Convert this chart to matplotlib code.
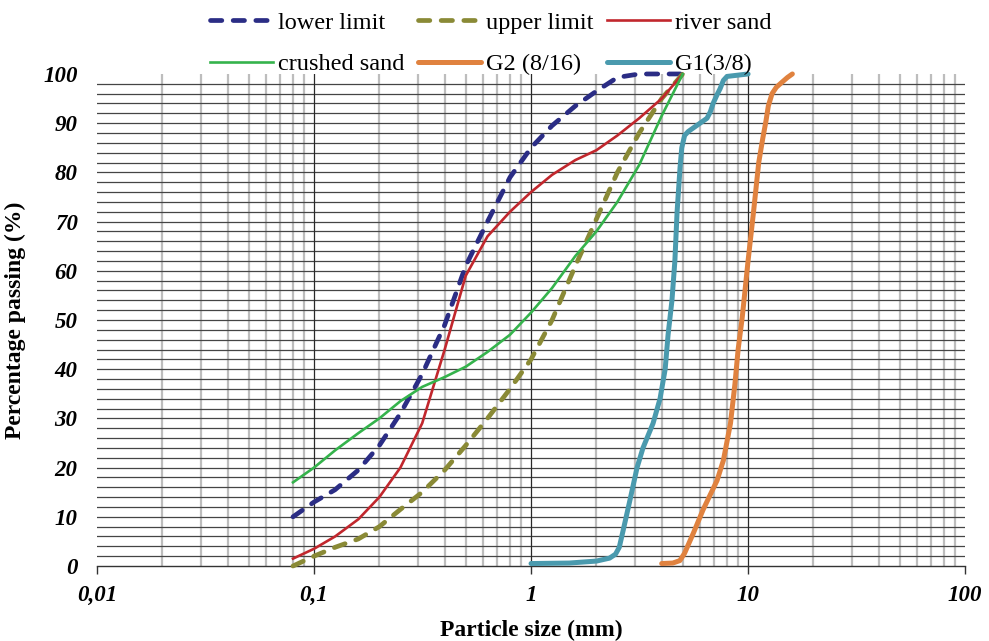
import matplotlib.pyplot as plt
import numpy as np

plt.rcParams['font.family'] = ['Liberation Serif', 'DejaVu Serif']

# sand curves, read at the sieve sizes (mm)
sieve = [0.08, 0.1, 0.125, 0.16, 0.2, 0.25, 0.315, 0.4, 0.5, 0.63, 0.8, 1,
         1.25, 1.6, 2, 2.5, 3.15, 4, 5]
lower_limit = [10, 13, 15.5, 19.5, 24.5, 31, 39, 49, 61, 70, 79, 85,
               89.5, 93.5, 96.5, 99.3, 100, 100, 100]
upper_limit = [0, 2, 3.8, 5.5, 8, 11.5, 15, 19.5, 24.5, 30, 36, 42,
               50, 61, 70.5, 80, 88, 95, 100]
river_sand = [1.5, 3.5, 6, 9.5, 14, 20, 29, 44, 59, 67, 72, 76,
              79.5, 82.5, 84.5, 87.5, 91, 95, 100]
crushed_sand = [17, 20, 23.5, 27, 30, 33.5, 36.4, 38.4, 40.5, 43.5, 47, 51.5,
                56.5, 63, 68, 74, 81.5, 91.5, 100]

# gravels
g1_size = [1, 1.5, 2.0, 2.3, 2.45, 2.55, 2.65, 2.86, 3.08, 3.28, 3.65, 3.93,
           4.15, 4.28, 4.46, 4.6, 4.71, 4.86, 4.95, 5.1, 5.3, 5.58, 6.1,
           6.47, 6.7, 6.9, 7.2, 7.43, 7.7, 8.0, 10]
g1_pass = [0.5, 0.6, 1.0, 1.6, 2.4, 3.8, 7, 13.5, 20, 24, 29, 34,
           40, 47, 54, 62, 72, 81, 85, 87.5, 88.3, 89, 90.2,
           91, 92.3, 94, 95.8, 97, 98.7, 99.5, 100]
g2_size = [4.0, 4.5, 4.85, 5.1, 5.3, 5.6, 6.2, 7.2, 7.7, 8.3, 8.7, 9.0, 9.4,
           10, 10.6, 11.2, 11.7, 12.1, 12.4, 12.9, 13.5, 14.4, 15.2, 16]
g2_pass = [0.5, 0.6, 1.1, 2.6, 4.3, 6.7, 11.4, 17.4, 21.5, 29, 37, 44, 50.5,
           62, 72, 82, 87, 90.5, 93.5, 96, 97.3, 98.4, 99.3, 100]

x_ticks = [0.01, 0.1, 1, 10, 100]
x_ticklabels = ['0,01', '0,1', '1', '10', '100']
y_ticks = list(range(0, 101, 10))

fig = plt.figure(figsize=(9.89, 6.41), dpi=100)
ax = fig.add_axes([0.0981, 0.117, 0.8777, 0.7676])
ax.set_xscale('log')
ax.set_xlim(0.01, 100)
ax.set_ylim(0, 100)

# grid
for dec in [0.01, 0.1, 1, 10]:
    for k in range(2, 10):
        ax.axvline(dec * k, color='#bdbdbd', lw=1.6, zorder=0)
for dec in [0.1, 1, 10]:
    ax.axvline(dec, color='#2a2a2a', lw=0.9, zorder=0.5)
for v in range(2, 100, 2):
    ax.axhline(v, color='#454545', lw=0.9, zorder=0.4)

dash = (2.4, 2.4)
h_low, = ax.plot(sieve, lower_limit, color='#2b2d85', lw=3.4, dashes=dash,
                 dash_capstyle='round', label='lower limit', clip_on=False,
                 zorder=3)
h_up, = ax.plot(sieve, upper_limit, color='#8a8a36', lw=3.4, dashes=dash,
                dash_capstyle='round', label='upper limit', clip_on=False,
                zorder=3)
h_river, = ax.plot(sieve, river_sand, color='#c1272d', lw=1.9,
                   label='river sand', clip_on=False, zorder=3)
h_crushed, = ax.plot(sieve, crushed_sand, color='#35b34c', lw=1.9,
                     label='crushed sand', clip_on=False, zorder=3)
h_g2, = ax.plot(g2_size, g2_pass, color='#e0823f', lw=3.6, label='G2 (8/16)',
                solid_capstyle='round', solid_joinstyle='round',
                clip_on=False, zorder=3)
h_g1, = ax.plot(g1_size, g1_pass, color='#4a9aae', lw=3.6, label='G1(3/8)',
                solid_capstyle='round', solid_joinstyle='round',
                clip_on=False, zorder=3)

for s in ['left', 'right', 'top']:
    ax.spines[s].set_visible(False)
ax.spines['bottom'].set_color('#333333')
ax.spines['bottom'].set_linewidth(1.0)

ax.set_xticks(x_ticks)
ax.set_xticklabels(x_ticklabels)
ax.minorticks_off()
ax.set_yticks(y_ticks)
ax.tick_params(axis='x', length=6, width=1, color='#333333', pad=8,
               labelsize=16.5)
ax.tick_params(axis='y', length=0, pad=14, labelsize=16.5)
for lab in ax.get_xticklabels() + ax.get_yticklabels():
    lab.set_fontweight('bold')
    lab.set_fontstyle('italic')

ax.set_xlabel('Particle size (mm)', fontsize=17, fontweight='bold', labelpad=10)
ax.set_ylabel('Percentage passing (%)', fontsize=17, fontweight='bold',
              labelpad=12)

# legend filled column by column, so order gives rows as in the figure
handles = [h_low, h_crushed, h_up, h_g2, h_river, h_g1]
fig.legend(handles=handles, labels=[h.get_label() for h in handles],
           loc='center', bbox_to_anchor=(0.496, 0.932), ncol=3,
           frameon=False, fontsize=17.5, handlelength=2.6, handletextpad=0.2,
           columnspacing=0.55, labelspacing=0.8)

fig.savefig('out.png', dpi=100)
